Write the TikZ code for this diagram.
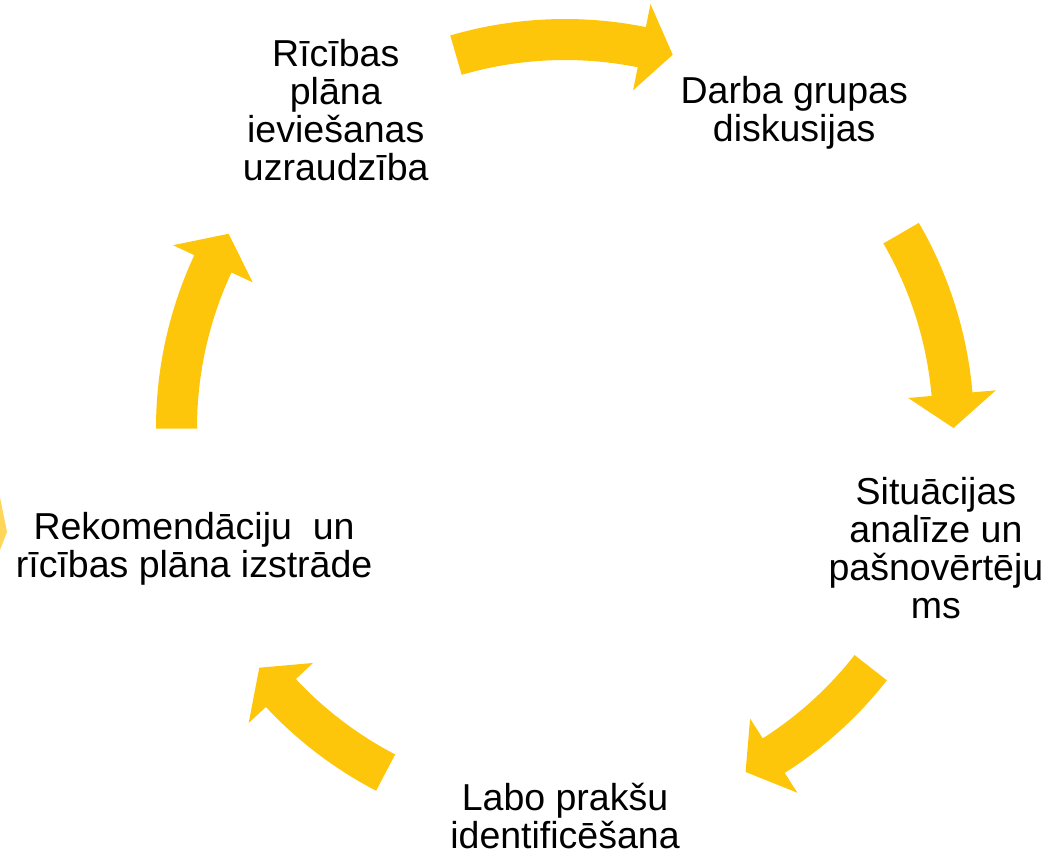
\documentclass[tikz,border=0pt]{standalone}
\usepackage{fontspec}
\setmainfont{Liberation Sans}
\definecolor{cyclegold}{RGB}{253,198,11}
\definecolor{palegold}{RGB}{253,214,90}
\newcommand{\ringx}{565}
\newcommand{\ringy}{428}
% curved arrow: tail angle, head base angle, tip angle
\newcommand{\cyclearrow}[3]{%
\fill[cyclegold]({\ringx+368*cos(#1)},{\ringy+368*sin(#1)})
  arc[start angle=#1,end angle=#2,radius=368]
  --({\ringx+344.5*cos(#2)},{\ringy+344.5*sin(#2)})
  --({\ringx+388.5*cos(#3)},{\ringy+388.5*sin(#3)})
  --({\ringx+432.5*cos(#2)},{\ringy+432.5*sin(#2)})
  --({\ringx+409*cos(#2)},{\ringy+409*sin(#2)})
  arc[start angle=#2,end angle=#1,radius=409]--cycle;}
\tikzset{steptext/.style={align=center,inner sep=0pt,font=\fontsize{37.5}{38}\selectfont}}
\begin{document}
\begin{tikzpicture}[x=1pt,y=-1pt]
\useasboundingbox(0,0)rectangle(1048,853);
\cyclearrow{-106.3}{-78.6}{-73.9}
\cyclearrow{-30.1}{-5}{0}
\cyclearrow{38.1}{57.5}{62.3}
\cyclearrow{117.5}{137}{141.9}
\cyclearrow{179.9}{205}{210}
\fill[palegold](0,497)--(7,532)--(0,550)--cycle;
\node[steptext](monitor)at({\ringx+390*cos(-126)},{\ringy+390*sin(-126)-2}){Rīcības\\plāna\\ieviešanas\\uzraudzība};
\node[steptext](groups)at({\ringx+390*cos(-54)},{\ringy+390*sin(-54)}){Darba grupas\\diskusijas};
\node[steptext](analysis)at({\ringx+390*cos(18)},{\ringy+390*sin(18)}){Situācijas\\analīze un\\pašnovērtēju\\ms};
\node[steptext](practice)at({\ringx+390*cos(90)},{\ringy+390*sin(90)-2}){Labo prakšu\\identificēšana};
\node[steptext](plan)at({\ringx+390*cos(162)},{\ringy+390*sin(162)}){Rekomendāciju~ un\\rīcības plāna izstrāde};
\end{tikzpicture}
\end{document}
